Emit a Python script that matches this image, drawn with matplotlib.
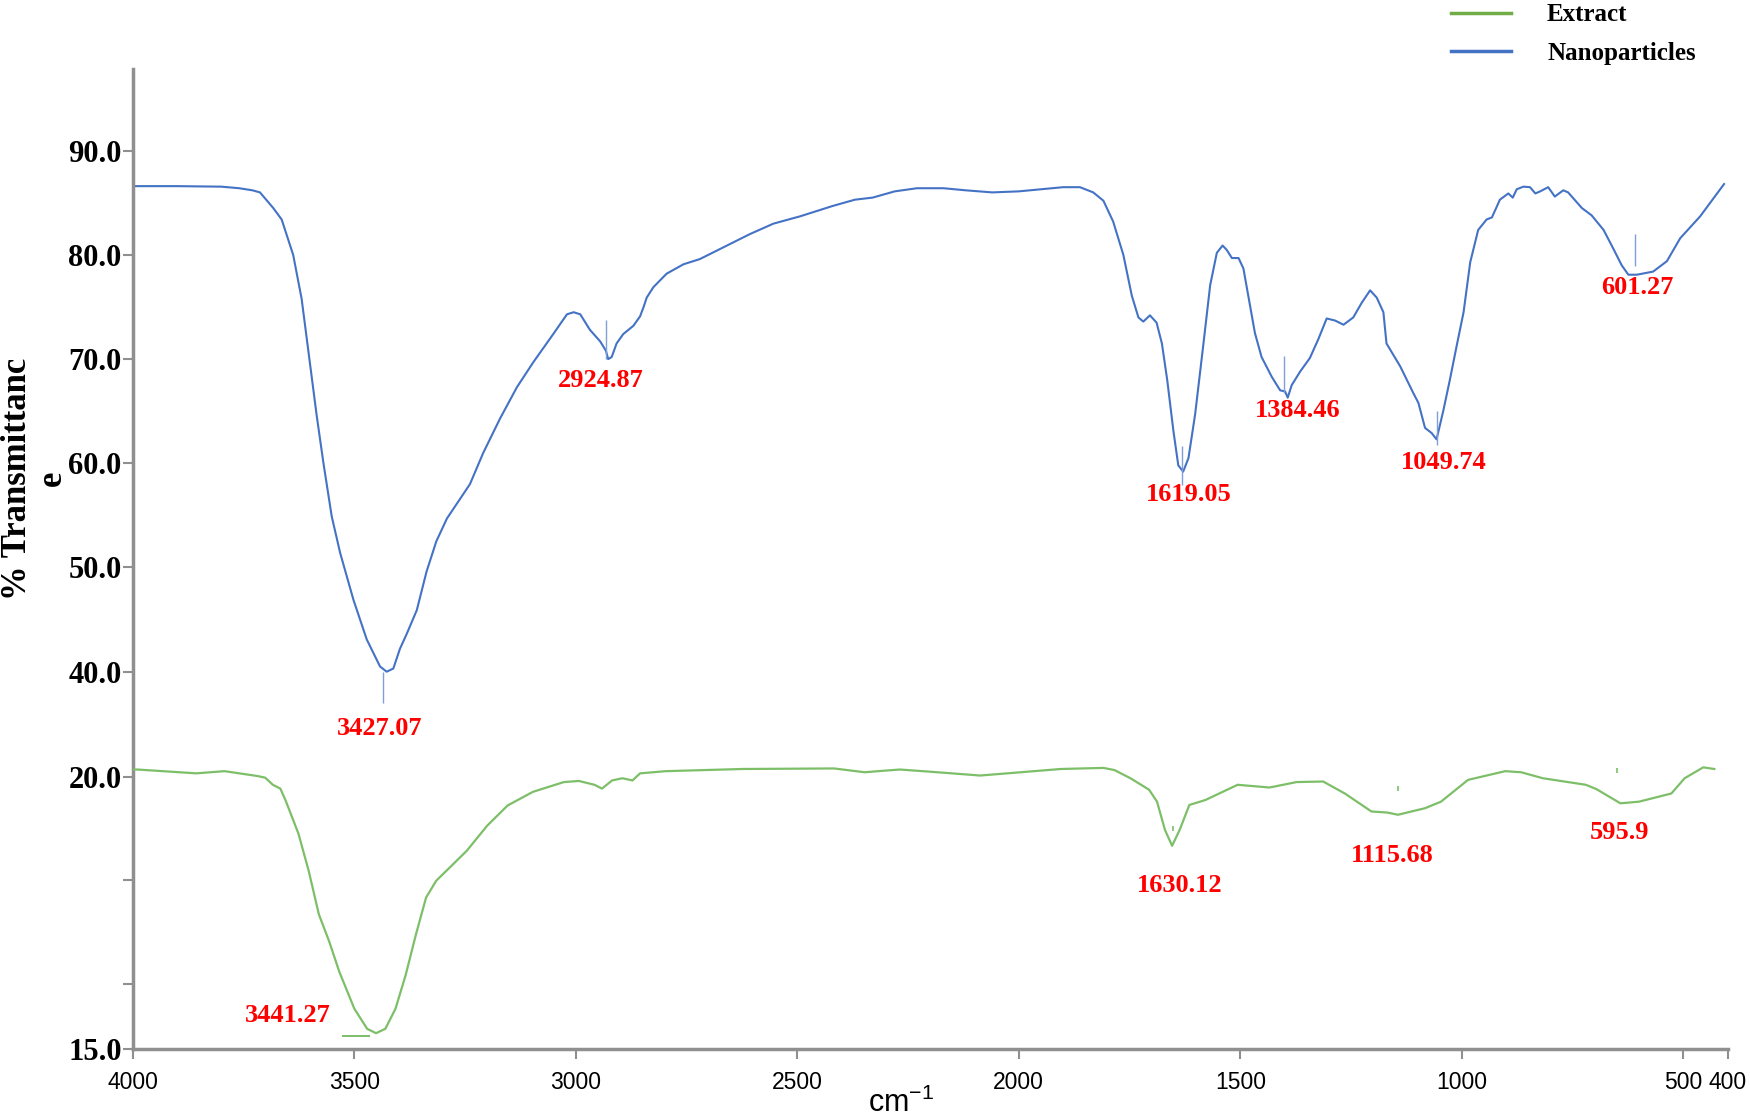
import numpy as np
import matplotlib
matplotlib.use("Agg")
import matplotlib.pyplot as plt
from matplotlib.lines import Line2D

# FTIR spectra: wavenumber (cm-1) and % transmittance
nano_wn = [4000, 3900, 3800, 3760, 3730, 3713, 3683, 3664, 3638, 3619, 3600, 3585,
           3570, 3551, 3532, 3502, 3472, 3442, 3427, 3412, 3397, 3382, 3359, 3337,
           3315, 3291, 3261, 3239, 3209, 3171, 3133, 3096, 3051, 3020, 3005, 2990,
           2968, 2945, 2932, 2927, 2919, 2908, 2893, 2870, 2855, 2847, 2840, 2825,
           2795, 2757, 2720, 2659, 2607, 2554, 2494, 2420, 2370, 2330, 2280, 2230,
           2170, 2120, 2060, 2000, 1950, 1900, 1862, 1832, 1809, 1787, 1764, 1745,
           1730, 1719, 1704, 1689, 1677, 1665, 1651, 1640, 1629, 1617, 1602, 1584,
           1568, 1553, 1540, 1531, 1519, 1504, 1493, 1482, 1467, 1452, 1429, 1410,
           1399, 1393, 1384, 1365, 1343, 1324, 1305, 1286, 1267, 1245, 1226, 1207,
           1192, 1177, 1170, 1139, 1109, 1098, 1083, 1068, 1057, 1042, 1027, 1011,
           996, 981, 963, 944, 932, 914, 895, 885, 876, 861, 846, 834, 823, 805,
           790, 771, 760, 729, 707, 680, 658, 639, 624, 605, 568, 537, 507, 462, 408]
nano_t = [86.6, 86.6, 86.55, 86.4, 86.2, 86.0, 84.5, 83.4, 80.0, 75.8, 69.5, 64.6,
          60.1, 54.9, 51.4, 46.9, 43.1, 40.5, 40.0, 40.3, 42.2, 43.6, 45.9, 49.6,
          52.5, 54.7, 56.6, 58.0, 61.0, 64.3, 67.3, 69.7, 72.4, 74.3, 74.5, 74.3,
          72.8, 71.7, 70.8, 70.0, 70.2, 71.5, 72.4, 73.2, 74.1, 75.0, 75.9, 76.9,
          78.2, 79.1, 79.6, 80.9, 82.0, 83.0, 83.7, 84.7, 85.3, 85.5, 86.1, 86.4,
          86.4, 86.2, 86.0, 86.1, 86.3, 86.5, 86.5, 86.0, 85.2, 83.2, 80.0, 76.1,
          74.0, 73.6, 74.2, 73.5, 71.5, 68.0, 63.1, 59.8, 59.2, 60.5, 64.7, 71.2,
          77.1, 80.2, 80.9, 80.5, 79.7, 79.7, 78.7, 76.1, 72.5, 70.2, 68.3, 67.0,
          66.9, 66.3, 67.5, 68.8, 70.1, 71.9, 73.9, 73.7, 73.3, 74.0, 75.4, 76.6,
          75.9, 74.5, 71.5, 69.3, 66.7, 65.8, 63.4, 62.9, 62.3, 65.0, 68.0, 71.4,
          74.5, 79.3, 82.4, 83.4, 83.6, 85.3, 85.9, 85.5, 86.3, 86.55, 86.5, 85.9,
          86.1, 86.5, 85.6, 86.2, 86.0, 84.5, 83.8, 82.4, 80.6, 79.0, 78.1, 78.1,
          78.4, 79.4, 81.6, 83.7, 86.8]

extract_wn = [4000, 3989, 3857, 3793, 3718, 3701, 3684, 3667, 3655, 3626, 3603, 3580,
              3557, 3534, 3500, 3471, 3451, 3430, 3407, 3384, 3361, 3338, 3315, 3281,
              3246, 3200, 3154, 3097, 3027, 2993, 2958, 2941, 2918, 2895, 2872, 2855,
              2797, 2624, 2417, 2348, 2302, 2268, 2200, 2087, 1905, 1809, 1784, 1748,
              1706, 1688, 1670, 1654, 1637, 1615, 1579, 1506, 1434, 1373, 1313, 1264,
              1204, 1168, 1144, 1083, 1047, 986, 902, 866, 817, 720, 696, 642, 600,
              527, 497, 455, 430]
extract_t = [20.13, 20.13, 20.06, 20.10, 20.01, 19.98, 19.85, 19.78, 19.56, 18.95, 18.27, 17.47,
             16.98, 16.42, 15.74, 15.37, 15.29, 15.37, 15.74, 16.36, 17.10, 17.78, 18.09, 18.36,
             18.64, 19.10, 19.47, 19.72, 19.90, 19.92, 19.85, 19.78, 19.93, 19.97, 19.93, 20.06,
             20.10, 20.14, 20.15, 20.08, 20.11, 20.13, 20.09, 20.02, 20.14, 20.16, 20.12, 19.97,
             19.76, 19.54, 19.02, 18.73, 19.02, 19.48, 19.57, 19.85, 19.80, 19.90, 19.91, 19.69,
             19.36, 19.34, 19.30, 19.42, 19.54, 19.94, 20.10, 20.08, 19.97, 19.85, 19.77, 19.51, 19.54,
             19.69, 19.97, 20.17, 20.14]

# peak labels
nano_peaks = ["3427.07", "2924.87", "1619.05", "1384.46", "1049.74", "601.27"]
nano_label_wn = [3443, 2944, 1617, 1370, 1040, 604]
nano_label_t = [34.5, 67.9, 57.0, 65.05, 60.1, 76.9]
nano_mark_wn = [3436, 2932, 1632, 1401, 1057, 610]
nano_mark_lo = [37.0, 70.0, 57.9, 66.7, 61.8, 78.9]
nano_mark_hi = [40.0, 73.8, 61.7, 70.3, 65.0, 82.0]

extract_peaks = ["3441.27", "1630.12", "1115.68", "595.9"]
extract_label_wn = [3650, 1636, 1157, 643]
extract_label_t = [15.62, 18.01, 18.56, 18.97]
extract_mark_wn = [1652, 1144, 650]
extract_mark_lo = [19.0, 19.74, 20.06]
extract_mark_hi = [19.1, 19.83, 20.16]

x_ticks = [4000, 3500, 3000, 2500, 2000, 1500, 1000, 500, 400]
y_ticks = [90, 80, 70, 60, 50, 40, 20, 10]
y_tick_labels = ["90.0", "80.0", "70.0", "60.0", "50.0", "40.0", "", ""]
y2_ticks = [20, 15]
y2_tick_labels = ["20.0", "15.0"]

blue = "#4472C4"
green = "#7DBF68"
axis_gray = "#8f8f8f"
serif = "Liberation Serif"
sans = "Liberation Sans"

fig = plt.figure(figsize=(17.5, 11.17), dpi=100)
ax = fig.add_axes([0.0759, 0.0609, 0.9113, 0.8773])
ax.set_xlim(4000, 400)
ax.set_ylim(3.79, 97.84)

ax.plot(nano_wn, nano_t, color=blue, lw=1.5)
ax.vlines(nano_mark_wn, nano_mark_lo, nano_mark_hi, color="#7f9fd8", lw=1.0)
for lab, x, y in zip(nano_peaks, nano_label_wn, nano_label_t):
    ax.text(x, y, lab, color="red", fontsize=19, fontweight="bold", family=serif,
            ha="center", va="center")

for s in ["top", "right"]:
    ax.spines[s].set_visible(False)
for s in ["left", "bottom"]:
    ax.spines[s].set_color(axis_gray)
    ax.spines[s].set_linewidth(2.5)

ax.set_xticks(x_ticks)
ax.set_xticklabels([str(t) for t in x_ticks], family=sans, fontsize=16.5)
ax.set_yticks(y_ticks)
ax.set_yticklabels(y_tick_labels, family=serif, fontweight="bold", fontsize=22)
ax.tick_params(axis="both", direction="out", color=axis_gray, width=1.5, length=7)
ax.tick_params(axis="y", pad=1)
ax.tick_params(axis="x", pad=9)

ax.set_xlabel(r"cm$^{\mathregular{-1}}$", family=sans, fontsize=22)
ax.xaxis.set_label_coords(0.482, -0.040)
ax.set_ylabel("% Transmittanc\ne", family=serif, fontweight="bold", fontsize=25,
              linespacing=1.1)
ax.yaxis.set_label_coords(-0.040, 0.582)

# second scale for the extract trace (drawn on the lower part of the plot)
ax2 = ax.twinx()
ax2.set_ylim(15, 32.99)
for s in ax2.spines.values():
    s.set_visible(False)
ax2.yaxis.set_ticks_position("left")
ax2.set_yticks(y2_ticks)
ax2.set_yticklabels(y2_tick_labels, family=serif, fontweight="bold", fontsize=22)
ax2.tick_params(axis="y", direction="out", color=axis_gray, width=1.5, length=7, pad=1)

ax2.plot(extract_wn, extract_t, color=green, lw=1.6)
ax2.hlines([15.23], [3528], [3465], color=green, lw=1.4)
ax2.vlines(extract_mark_wn, extract_mark_lo, extract_mark_hi, color=green, lw=1.2)
for lab, x, y in zip(extract_peaks, extract_label_wn, extract_label_t):
    ax2.text(x, y, lab, color="red", fontsize=19, fontweight="bold", family=serif,
             ha="center", va="center")

handles = [Line2D([], [], color="#70AD47", lw=2.5), Line2D([], [], color=blue, lw=2.5)]
fig.legend(handles, ["Extract", "Nanoparticles"], loc="upper left",
           bbox_to_anchor=(0.829, 0.997), frameon=False,
           prop={"family": serif, "weight": "bold", "size": 18},
           handlelength=2.4, handletextpad=1.45, labelspacing=0.62,
           borderpad=0, borderaxespad=0)

fig.savefig("out.png", dpi=100)
